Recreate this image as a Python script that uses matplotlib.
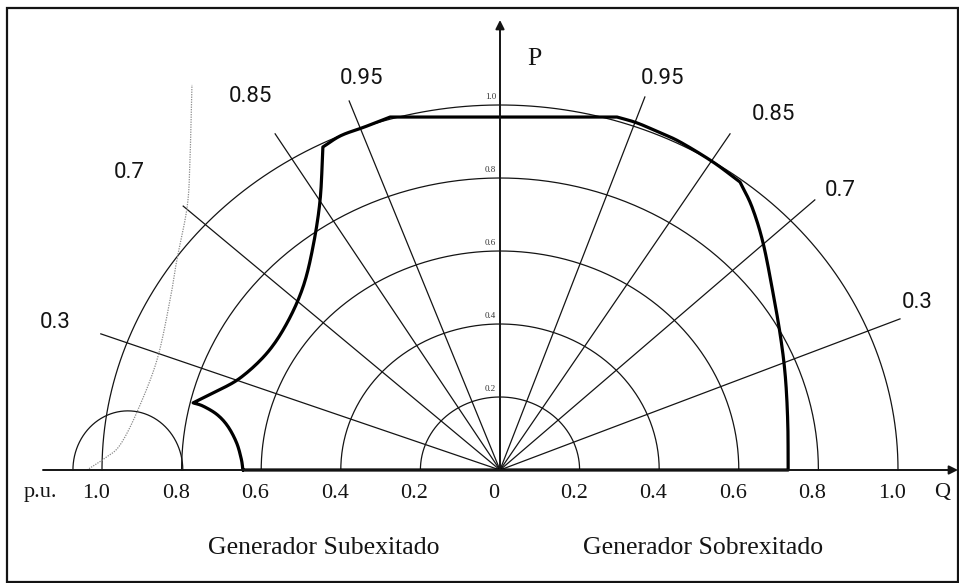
import numpy as np
import matplotlib
matplotlib.use("Agg")
import matplotlib.pyplot as plt
from matplotlib.patches import Rectangle

# ---------------- data (per-unit Q, P) ----------------
# apparent-power circles
s_radii = [0.2, 0.4, 0.6, 0.8, 1.0]

# power-factor rays: label and end point of each ray
pf_labels = ["0.3", "0.7", "0.85", "0.95"]
pf_end_q_right = [1.005, 0.791, 0.578, 0.364]
pf_end_p_right = [0.414, 0.740, 0.921, 1.022]
pf_end_q_left = [-1.003, -0.796, -0.565, -0.379]
pf_end_p_left = [0.373, 0.723, 0.921, 1.011]

# capability curve (clockwise from the under-excited end on the Q axis)
cap_q = [-0.646, -0.650, -0.662, -0.684, -0.711, -0.746, -0.771,
         -0.721, -0.653, -0.585, -0.535, -0.495, -0.470, -0.452, -0.445,
         -0.400, -0.340, -0.276,
         0.294, 0.344, 0.400, 0.452, 0.535, 0.603,
         0.633, 0.661, 0.686, 0.705, 0.717, 0.723, 0.724,
         -0.646]
cap_p = [0.000, 0.030, 0.075, 0.120, 0.152, 0.175, 0.184,
         0.211, 0.252, 0.321, 0.403, 0.501, 0.611, 0.740, 0.885,
         0.916, 0.940, 0.967,
         0.967, 0.951, 0.925, 0.899, 0.844, 0.789,
         0.721, 0.622, 0.485, 0.364, 0.255, 0.130, 0.000,
         0.000]
# indices where the curve has sharp corners
cap_corners = [0, 6, 14, 17, 18, 23, 30, 31]

# steady-state stability limit (dotted)
stab_q = [-1.038, -0.992, -0.955, -0.912, -0.862, -0.829, -0.812, -0.786, -0.779, -0.774]
stab_p = [0.000, 0.033, 0.068, 0.159, 0.301, 0.466, 0.575, 0.721, 0.849, 1.055]

# small auxiliary circle on the under-excited side
aux_center_q = -0.935
aux_radius_q = 0.138
aux_radius_p = 0.162

# axis tick values
q_tick_values = [-1.0, -0.8, -0.6, -0.4, -0.2, 0.0, 0.2, 0.4, 0.6, 0.8, 1.0]
p_tick_values = [0.2, 0.4, 0.6, 0.8, 1.0]

# ---------------- layout ----------------
W, H = 959, 583
ORIGIN = (500, 470)
SX, SY = 398, 365


def px(x, y):
    """Convert a figure pixel position to data coordinates."""
    return ((x - ORIGIN[0]) / SX, (ORIGIN[1] - y) / SY)


def catmull_rom(xs, ys, n=16):
    """Smooth curve through the given points (uniform Catmull-Rom)."""
    pts = np.column_stack([xs, ys]).astype(float)
    if len(pts) < 3:
        return pts[:, 0], pts[:, 1]
    ext = np.vstack([2 * pts[0] - pts[1], pts, 2 * pts[-1] - pts[-2]])
    out = []
    s = np.linspace(0, 1, n, endpoint=False)[:, None]
    for i in range(1, len(ext) - 2):
        p0, p1, p2, p3 = ext[i - 1], ext[i], ext[i + 1], ext[i + 2]
        seg = 0.5 * ((2 * p1) + (-p0 + p2) * s
                     + (2 * p0 - 5 * p1 + 4 * p2 - p3) * s ** 2
                     + (-p0 + 3 * p1 - 3 * p2 + p3) * s ** 3)
        out.append(seg)
    out.append(pts[-1][None, :])
    out = np.vstack(out)
    return out[:, 0], out[:, 1]


fig = plt.figure(figsize=(W / 100, H / 100), dpi=100)
fig.patch.set_facecolor("white")
ax = fig.add_axes([0, 0, 1, 1])
xl, yt = px(0, 0)
xr, yb = px(W, H)
ax.set_xlim(xl, xr)
ax.set_ylim(yb, yt)
ax.axis("off")

ink = "#141414"
serif = "Liberation Serif"

# frame
fig.add_artist(Rectangle((7 / W, 1.5 / H), 950.5 / W, 573.5 / H,
                         transform=fig.transFigure, fill=False,
                         lw=1.6, edgecolor=ink))

# apparent-power circles
t = np.linspace(0, np.pi, 300)
for r in s_radii:
    ax.plot(r * np.cos(t), r * np.sin(t), color=ink, lw=0.9)

# power-factor rays
for q, p in zip(pf_end_q_right + pf_end_q_left, pf_end_p_right + pf_end_p_left):
    ax.plot([0, q], [0, p], color=ink, lw=0.9)

# auxiliary circle
ax.plot(aux_center_q + aux_radius_q * np.cos(t), aux_radius_p * np.sin(t),
        color=ink, lw=0.9)

# stability limit
sq, sp = catmull_rom(stab_q, stab_p)
ax.plot(sq, sp, color="#8a8a8a", lw=0.9, linestyle=(0, (1, 1)))

# axes with arrows
q_start = px(43, 470)[0]
q_end = px(958, 470)[0]
p_top = px(500, 20)[1]
ax.annotate("", xy=(q_end, 0), xytext=(q_start, 0),
            arrowprops=dict(arrowstyle="-|>", lw=1.4, color=ink,
                            mutation_scale=13, shrinkA=0, shrinkB=0))
ax.annotate("", xy=(0, p_top), xytext=(0, 0),
            arrowprops=dict(arrowstyle="-|>", lw=1.4, color=ink,
                            mutation_scale=13, shrinkA=0, shrinkB=0))

# capability curve, smoothed piecewise between corners
cq, cp = [], []
for a, b in zip(cap_corners[:-1], cap_corners[1:]):
    xq, yp = catmull_rom(cap_q[a:b + 1], cap_p[a:b + 1])
    cq.extend(xq)
    cp.extend(yp)
ax.plot(cq, cp, color="black", lw=2.3, solid_joinstyle="round",
        solid_capstyle="round")

# power-factor labels
pf_label_px_right = [(917, 303), (840, 190), (773, 115), (662, 78)]
pf_label_px_left = [(55, 322), (129, 172), (250, 96), (361, 78)]
for lab, pos in zip(pf_labels + pf_labels, pf_label_px_right + pf_label_px_left):
    ax.text(*px(*pos), lab, ha="center", va="center", fontsize=16,
            family="Roboto", color=ink)

# Q-axis tick labels
for v in q_tick_values:
    lab = "0" if v == 0 else f"{abs(v):.1f}"
    ax.annotate(lab, xy=(v, 0), xytext=(-6, -23), textcoords="offset pixels",
                ha="center", va="center", fontsize=16, family=serif, color=ink)
ax.text(*px(40, 493), "p.u.", ha="center", va="center", fontsize=16,
        family=serif, color=ink)
ax.text(*px(942, 493), "Q", ha="center", va="center", fontsize=16,
        family=serif, color=ink)

# P-axis tick labels
for v in p_tick_values:
    ax.annotate(f"{v:.1f}", xy=(0, v), xytext=(-4, 8), textcoords="offset pixels",
                ha="right", va="center", fontsize=6.5, family=serif, color="#333333")
ax.text(*px(534, 59), "P", ha="center", va="center", fontsize=18.5,
        family=serif, color=ink)

# region captions
ax.text(*px(324, 548), "Generador Subexitado", ha="center", va="center",
        fontsize=18.5, family=serif, color=ink)
ax.text(*px(703, 548), "Generador Sobrexitado", ha="center", va="center",
        fontsize=18.5, family=serif, color=ink)

fig.savefig("out.png", dpi=100, facecolor="white")
